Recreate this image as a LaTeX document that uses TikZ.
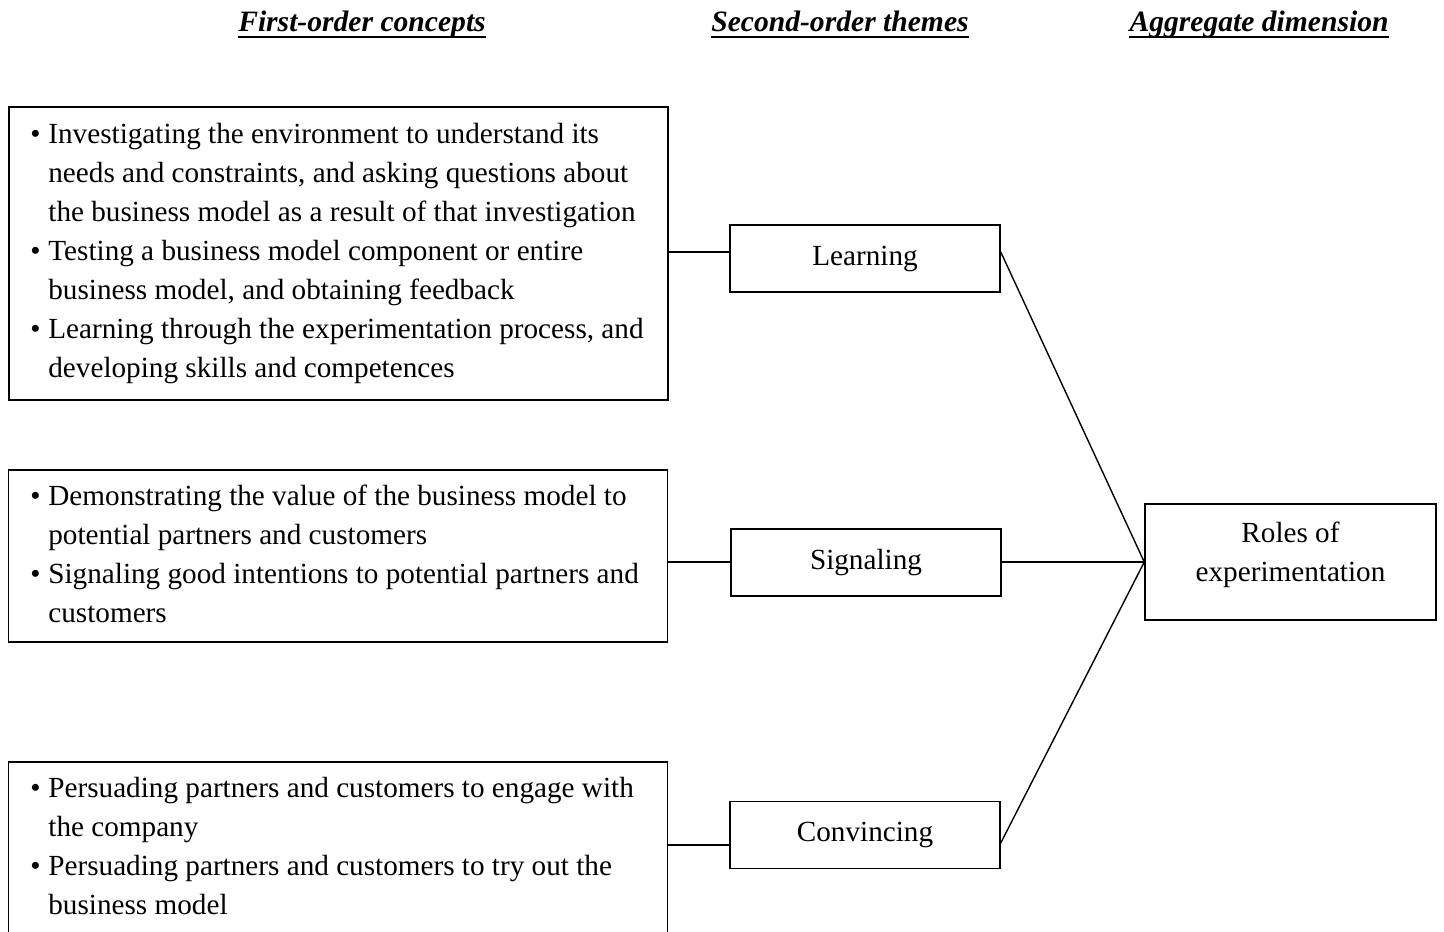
\documentclass[tikz,border=0pt]{standalone}
\usepackage{fontspec}
\setmainfont{Liberation Serif}
\tikzset{
  conceptbox/.style={draw, line width=0.75pt, inner sep=0pt, minimum width=329.5pt},
  themebox/.style={draw, line width=0.75pt, inner sep=0pt, minimum width=135pt, minimum height=33.5pt, font=\fontsize{14.6}{19.5}\selectfont},
  bodytext/.style={inner sep=0pt, anchor=west, align=left, font=\fontsize{14.6}{19.5}\selectfont},
  header/.style={inner sep=0pt, anchor=base, font=\fontsize{14.8}{19.5}\selectfont\bfseries\itshape},
  uline/.style={line width=1.25pt},
  link/.style={line width=0.7pt},
}
\newcommand{\bul}{\textbullet}
\begin{document}
\begin{tikzpicture}[x=0.5pt,y=-0.5pt]
\useasboundingbox (0,0) rectangle (1444,931);
% headers
\node[header] (h1) at (362,32) {First-order concepts};
\node[header] (h2) at (840,32) {Second-order themes};
\node[header] (h3) at (1259,32) {Aggregate dimension};
\draw[uline] ([yshift=-2.5pt]h1.base west) -- ([yshift=-2.5pt]h1.base east);
\draw[uline] ([yshift=-2.5pt]h2.base west) -- ([yshift=-2.5pt]h2.base east);
\draw[uline] ([yshift=-2.5pt]h3.base west) -- ([yshift=-2.5pt]h3.base east);
% concept boxes
\node[conceptbox, minimum height=146.5pt] (b1) at (338.5,253.5) {};
\node[bodytext] (t1) at (30,252.5) {\begin{tabular}{@{}p{9pt}@{}l@{}}
\bul & Investigating the environment to understand its\\
 & needs and constraints, and asking questions about\\
 & the business model as a result of that investigation\\
\bul & Testing a business model component or entire\\
 & business model, and obtaining feedback\\
\bul & Learning through the experimentation process, and\\
 & developing skills and competences
\end{tabular}};
\node[conceptbox, minimum height=86pt] (b2) at (338,556) {};
\node[bodytext] (t2) at (30,556) {\begin{tabular}{@{}p{9pt}@{}l@{}}
\bul & Demonstrating the value of the business model to\\
 & potential partners and customers\\
\bul & Signaling good intentions to potential partners and\\
 & customers
\end{tabular}};
\node[conceptbox, minimum height=86pt] (b3) at (338,848) {};
\node[bodytext] (t3) at (30,848) {\begin{tabular}{@{}p{9pt}@{}l@{}}
\bul & Persuading partners and customers to engage with\\
 & the company\\
\bul & Persuading partners and customers to try out the\\
 & business model
\end{tabular}};
% theme boxes
\node[themebox] (learn) at (865,258.5) {Learning};
\node[themebox] (signal) at (866,562.5) {Signaling};
\node[themebox] (convince) at (865,835) {Convincing};
% aggregate
\node[draw, line width=0.75pt, inner sep=0pt, minimum width=145.5pt, minimum height=58pt] (roles) at (1290.5,562) {};
\node[inner sep=0pt, align=center, font=\fontsize{14.6}{19.5}\selectfont] (rolestext) at (1290.5,555) {Roles of\\experimentation};
% connector levels
\coordinate (yL) at (700,252);
\coordinate (yS) at (700,562);
\coordinate (yC) at (700,845);
\coordinate (yCr) at (1000,843);
\draw[link] (b1.east |- yL) -- (learn.west |- yL);
\draw[link] (b2.east |- yS) -- (signal.west |- yS);
\draw[link] (b3.east |- yC) -- (convince.west |- yC);
\draw[link] (learn.east |- yL) -- (roles.west);
\draw[line width=1.2pt] (signal.east |- yS) -- (roles.west);
\draw[link] (convince.east |- yCr) -- (roles.west);
\end{tikzpicture}
\end{document}
